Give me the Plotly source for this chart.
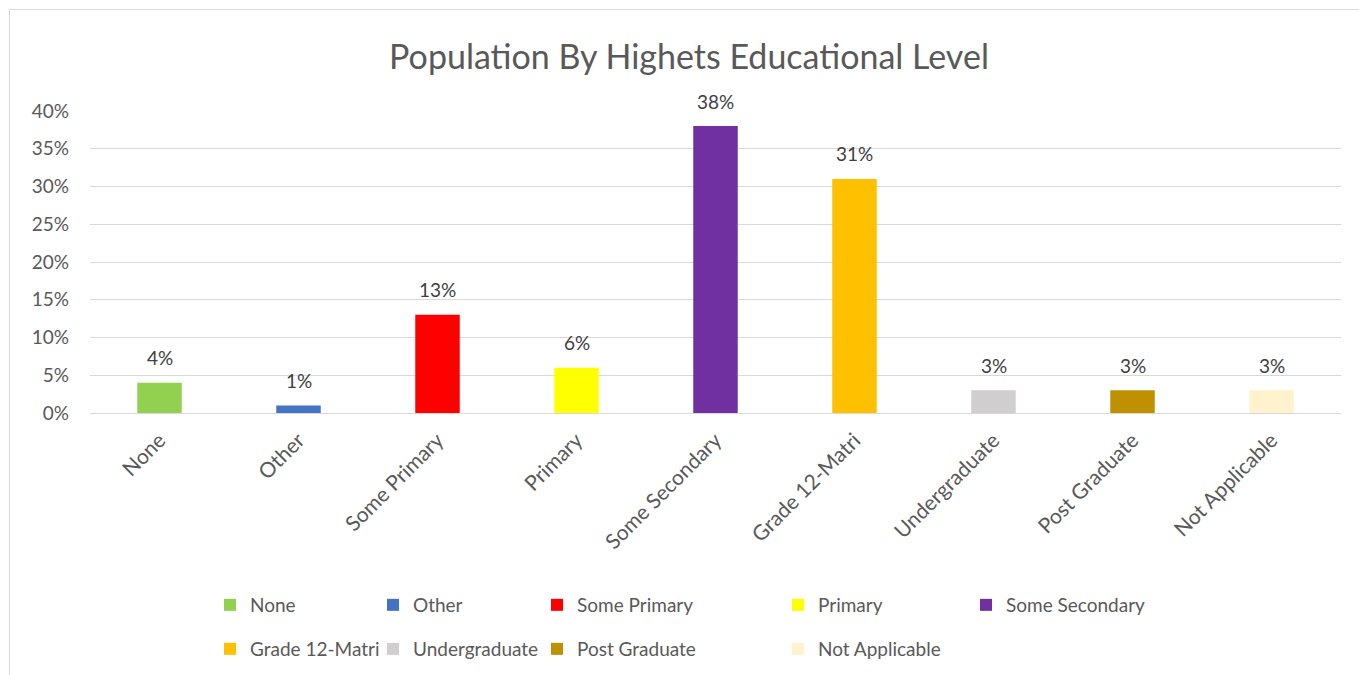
import plotly.graph_objects as go

# ---- data ----
categories = ["None", "Other", "Some Primary", "Primary", "Some Secondary",
              "Grade 12-Matri", "Undergraduate", "Post Graduate", "Not Applicable"]
values = [0.04, 0.01, 0.13, 0.06, 0.38, 0.31, 0.03, 0.03, 0.03]
labels = ["4%", "1%", "13%", "6%", "38%", "31%", "3%", "3%", "3%"]
colors = ["#92D050", "#4472C4", "#FF0000", "#FFFF00", "#7030A0",
          "#FFC000", "#D0CECE", "#BF9000", "#FFF2CC"]
y_ticks = [0, 0.05, 0.10, 0.15, 0.20, 0.25, 0.30, 0.35, 0.40]
y_tick_text = ["0%", "5%", "10%", "15%", "20%", "25%", "30%", "35%", "40%"]
title = "Population By Highets Educational Level"

# ---- layout helpers (pixel positions of legend swatches) ----
W, H = 1359, 675
legend_px = [(225, 605), (388, 605), (552, 605), (793, 605), (981, 605),
             (225, 649), (388, 649), (552, 649), (793, 649)]

FONT = "Lato"
GRAY = "#595959"

fig = go.Figure()
for i, (c, v, col) in enumerate(zip(categories, values, colors)):
    lg = "legend" if i == 0 else f"legend{i+1}"
    fig.add_trace(go.Bar(x=[c], y=[v], name=c, marker=dict(color=col, line=dict(width=0)),
                         width=0.32, legend=lg, showlegend=True, hoverinfo="x+y"))

for c, v, t in zip(categories, values, labels):
    fig.add_annotation(x=c, y=v, text=t, showarrow=False, yanchor="middle", yshift=25,
                       font=dict(family=FONT, size=19, color="#404040"))

layout_legends = {}
for i, (px, py) in enumerate(legend_px):
    key = "legend" if i == 0 else f"legend{i+1}"
    layout_legends[key] = dict(xref="container", yref="container",
                               x=(px + 6 - 20 - 1) / W, y=1 - py / H,
                               xanchor="left", yanchor="middle",
                               bgcolor="rgba(0,0,0,0)", borderwidth=0,
                               font=dict(family=FONT, size=19, color=GRAY))

fig.update_layout(
    width=W, height=H,
    showlegend=True,
    margin=dict(l=90, r=18, t=111, b=262, autoexpand=False),
    paper_bgcolor="white", plot_bgcolor="white",
    barmode="overlay",
    title=dict(text=title, xref="container", yref="container", x=689 / W, y=1 - 57 / H,
               xanchor="center", yanchor="middle",
               font=dict(family=FONT, size=34, color=GRAY)),
    xaxis=dict(categoryorder="array", categoryarray=categories, tickangle=-45,
               tickfont=dict(family=FONT, size=21, color=GRAY), showgrid=False,
               showline=False, zeroline=False, ticks="", automargin=False,
               ticklabelstandoff=10),
    yaxis=dict(range=[0, 0.4], tickvals=y_ticks, ticktext=y_tick_text,
               tickfont=dict(family=FONT, size=19, color=GRAY), showgrid=True,
               gridcolor="#D9D9D9", gridwidth=1, zeroline=True, zerolinecolor="#D9D9D9",
               zerolinewidth=1, showline=False, ticks="", ticklabelstandoff=20,
               automargin=False),
    **layout_legends,
)

# chart frame (light border at left / top, as in reference)
pl, pr, pt, pb = 90, 1341, 111, 413
def xp(px): return (px - pl) / (pr - pl)
def yp(py): return (pb - py) / (pb - pt)
fig.add_shape(type="rect", xref="paper", yref="paper",
              x0=xp(9.5), x1=xp(W + 20), y0=yp(9.5), y1=yp(H + 20),
              line=dict(color="#D9D9D9", width=1), fillcolor="rgba(0,0,0,0)", layer="below")

fig.write_html("out.html", config={"displayModeBar": False},
               post_script="document.body.style.margin='0';")
